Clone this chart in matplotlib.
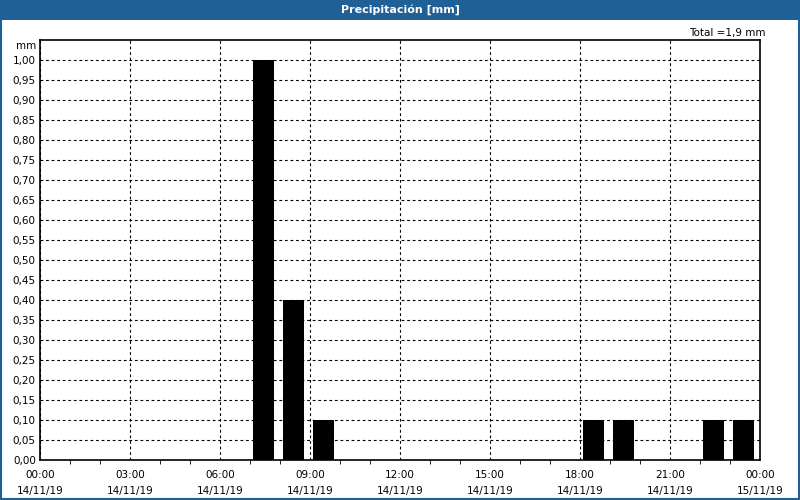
import matplotlib.pyplot as plt
from matplotlib.patches import Rectangle
from matplotlib.ticker import MultipleLocator, FixedLocator

# hourly precipitation, hour of the day (start of interval) and mm
hours = [7, 8, 9, 18, 19, 22, 23]
rain = [1.0, 0.4, 0.1, 0.1, 0.1, 0.1, 0.1]

tickHours = [0, 3, 6, 9, 12, 15, 18, 21, 24]
tickLabels = ['00:00\n14/11/19', '03:00\n14/11/19', '06:00\n14/11/19', '09:00\n14/11/19',
              '12:00\n14/11/19', '15:00\n14/11/19', '18:00\n14/11/19', '21:00\n14/11/19',
              '00:00\n15/11/19']
yTicks = [i * 0.05 for i in range(21)]
title = 'Precipitación [mm]'
blue = '#1f6096'

fig = plt.figure(figsize=(8, 5), dpi=100)
ax = fig.add_axes([0.05, 0.08, 0.90, 0.84])

ax.bar([h + 0.45 for h in hours], rain, width=0.69, color='black', zorder=3)

ax.set_xlim(0, 24)
ax.set_ylim(0, 1.05)
ax.xaxis.set_major_locator(FixedLocator(tickHours))
ax.set_xticklabels(tickLabels, fontsize=7.5, linespacing=1.75)
ax.xaxis.set_minor_locator(MultipleLocator(1))
ax.yaxis.set_major_locator(FixedLocator(yTicks))
ax.set_yticklabels([('%.2f' % v).replace('.', ',') for v in yTicks], fontsize=7.5)
ax.tick_params(axis='x', which='major', length=0, pad=7)
ax.tick_params(axis='x', which='minor', length=3, direction='out')
ax.tick_params(axis='y', length=0, pad=3)
ax.grid(True, which='major', color='black', linestyle=(0, (2.5, 2.5)), linewidth=0.8, zorder=0)
for s in ax.spines.values():
    s.set_linewidth(1.2)
    s.set_zorder(4)

fig.text(0.045, 0.908, 'mm', fontsize=7.5, ha='right', va='center')
fig.text(0.957, 0.934, 'Total =1,9 mm', fontsize=7.5, ha='right', va='center')

# title bar and frame
fig.patches.append(Rectangle((0, 0.96), 1, 0.04, transform=fig.transFigure,
                             facecolor=blue, edgecolor='none'))
fig.patches.append(Rectangle((0.001, 0.002), 0.998, 0.997, transform=fig.transFigure,
                             facecolor='none', edgecolor=blue, linewidth=1.5))
fig.text(0.5, 0.98, title, fontsize=8, color='white', fontweight='bold', ha='center', va='center')

plt.savefig('out.png')
